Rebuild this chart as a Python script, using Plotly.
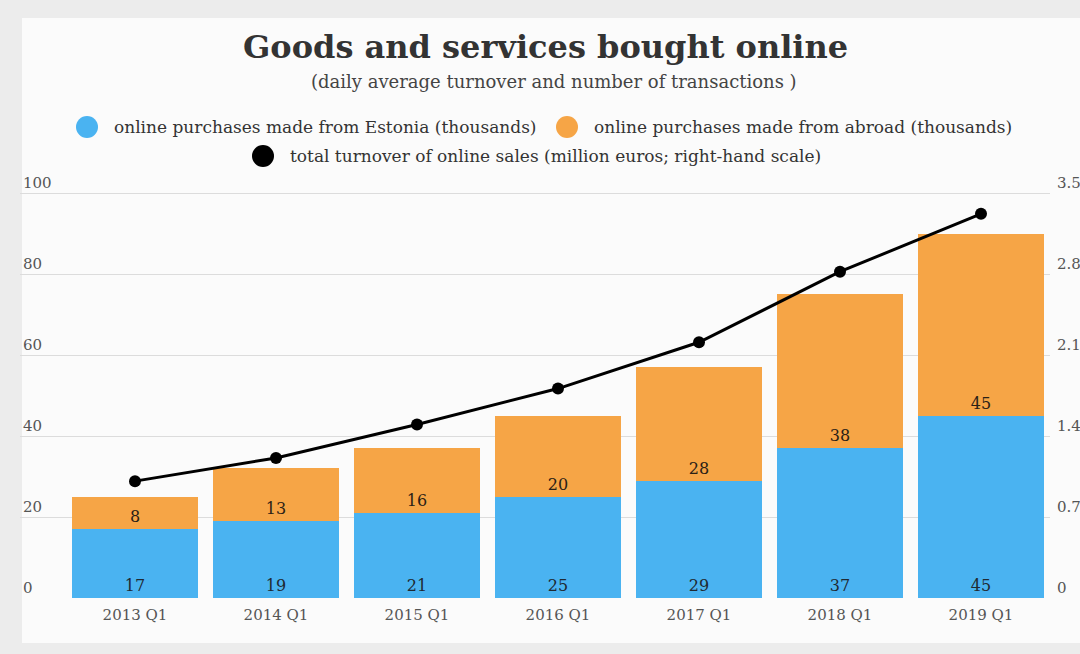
import plotly.graph_objects as go

# Quarterly data
quarters = ["2013 Q1", "2014 Q1", "2015 Q1", "2016 Q1", "2017 Q1", "2018 Q1", "2019 Q1"]
from_estonia = [17, 19, 21, 25, 29, 37, 45]      # thousands of purchases
from_abroad = [8, 13, 16, 20, 28, 38, 45]        # thousands of purchases
turnover = [1.01, 1.21, 1.50, 1.81, 2.21, 2.82, 3.32]  # million euros (right scale)

left_ticks = [0, 20, 40, 60, 80, 100]
right_ticks = [0, 0.7, 1.4, 2.1, 2.8, 3.5]
right_tick_text = ["0", "0.7", "1.4", "2.1", "2.8", "3.5"]

BLUE = "#4ab3f1"
ORANGE = "#f6a546"
SERIF = "DejaVu Serif"
W, H = 1080, 654

fig = go.Figure()

fig.add_trace(go.Bar(
    x=quarters, y=from_estonia, name="online purchases made from Estonia (thousands)",
    marker=dict(color=BLUE, line=dict(width=0)),
    text=[str(v) for v in from_estonia], textposition="inside", insidetextanchor="start",
    textangle=0, textfont=dict(family=SERIF, size=16, color="#1f2a33"),
    cliponaxis=False, showlegend=False,
))
fig.add_trace(go.Bar(
    x=quarters, y=from_abroad, name="online purchases made from abroad (thousands)",
    marker=dict(color=ORANGE, line=dict(width=0)),
    text=[str(v) for v in from_abroad], textposition="inside", insidetextanchor="start",
    textangle=0, textfont=dict(family=SERIF, size=16, color="#2a2116"),
    cliponaxis=False, showlegend=False,
))
fig.add_trace(go.Scatter(
    x=quarters, y=turnover, yaxis="y2", mode="lines+markers",
    name="total turnover of online sales (million euros; right-hand scale)",
    line=dict(color="#000000", width=3), marker=dict(color="#000000", size=12),
    cliponaxis=False, showlegend=False,
))

# plot area in pixels (range extended a hair so the top gridline stays inside)
x_left, x_right = 20, 1050
y_base, y_top = 598, 191
y_max = 100.5
y2_max = 3.5 * y_max / 100
cat_step = 141
first_center = 135

fig.update_layout(
    width=W, height=H,
    margin=dict(l=0, r=0, t=0, b=0, autoexpand=False),
    paper_bgcolor="#ececec",
    plot_bgcolor="rgba(0,0,0,0)",
    barmode="stack", bargap=0.1,
    font=dict(family=SERIF, color="#555555", size=15),
    xaxis=dict(
        domain=[x_left / W, x_right / W], automargin=False,
        range=[(x_left - first_center) / cat_step, (x_right - first_center) / cat_step],
        showgrid=False, zeroline=False, showline=False, ticks="",
        tickfont=dict(family=SERIF, size=15, color="#555555"),
        ticklabelstandoff=6,
    ),
    yaxis=dict(
        domain=[(H - y_base) / H, (H - y_top) / H], automargin=False,
        range=[0, y_max], tickvals=left_ticks,
        showgrid=True, gridcolor="#dcdcdc", gridwidth=1,
        zeroline=False, showline=False, ticks="",
        ticklabelposition="inside top", ticklabeloverflow="allow",
        tickfont=dict(family=SERIF, size=15, color="#555555"),
    ),
    yaxis2=dict(
        overlaying="y", side="right", anchor="x",
        range=[0, y2_max], tickvals=right_ticks, ticktext=right_tick_text,
        showgrid=False, zeroline=False, showline=False, ticks="",
        ticklabelposition="outside top", automargin=False, ticklabelstandoff=6,
        ticklabeloverflow="allow",
        tickfont=dict(family=SERIF, size=15, color="#555555"),
    ),
)

# card panel behind the chart
fig.add_shape(type="path", xref="paper", yref="paper", layer="below",
              path="M {x0},{y1} L {x1},{y1} L {x1},{y0} L {x0},{y0} Z".format(
                  x0=22 / W, x1=1.05, y0=(H - 643) / H, y1=(H - 18) / H),
              fillcolor="#fbfbfb", line=dict(width=0))

# title and subtitle
fig.add_annotation(text="<b>Goods and services bought online</b>", x=545 / W, y=(H - 47) / H,
                   xref="paper", yref="paper", showarrow=False, xanchor="center", yanchor="middle",
                   font=dict(family=SERIF, size=32, color="#333333"))
fig.add_annotation(text="(daily average turnover and number of transactions )", x=554 / W, y=(H - 82) / H,
                   xref="paper", yref="paper", showarrow=False, xanchor="center", yanchor="middle",
                   font=dict(family=SERIF, size=18, color="#444444"))

# legend entries: colour dot + label
legend_items = [
    (BLUE, 87, 127, "online purchases made from Estonia (thousands)"),
    (ORANGE, 567, 127, "online purchases made from abroad (thousands)"),
    ("#000000", 263, 156, "total turnover of online sales (million euros; right-hand scale)"),
]
for color, cx, cy, label in legend_items:
    r = 11
    fig.add_shape(type="circle", xref="paper", yref="paper",
                  x0=(cx - r) / W, x1=(cx + r) / W, y0=(H - cy - r) / H, y1=(H - cy + r) / H,
                  fillcolor=color, line=dict(width=0))
    fig.add_annotation(text=label, x=(cx + 25) / W, y=(H - cy) / H, xref="paper", yref="paper",
                       showarrow=False, xanchor="left", yanchor="middle",
                       font=dict(family=SERIF, size=17, color="#333333"))

fig.write_html("out.html")
